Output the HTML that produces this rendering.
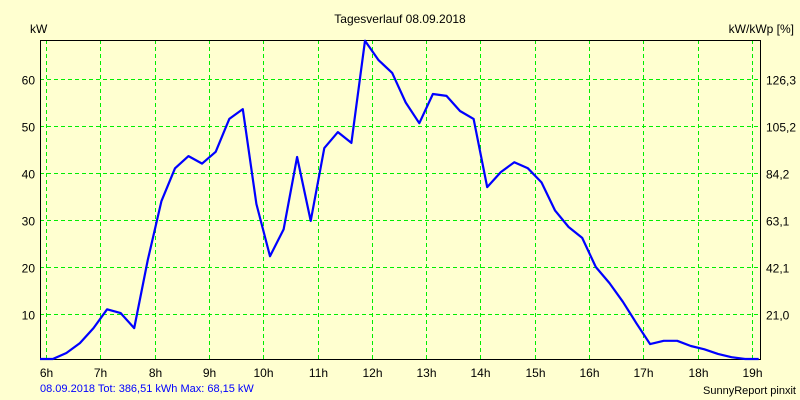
<!DOCTYPE html>
<html><head><meta charset="utf-8"><style>
html,body{margin:0;padding:0;background:#ffffd0;}
svg{display:block;font-family:"Liberation Sans",sans-serif;font-size:12px;}
</style></head><body>
<svg id="chart" width="800" height="400">
<rect x="0" y="0" width="800" height="400" fill="#ffffd0"/>
<text x="400" y="23" text-anchor="middle" fill="#000">Tagesverlauf 08.09.2018</text>
<text x="30" y="33" fill="#000">kW</text>
<text x="794" y="33" text-anchor="end" fill="#000">kW/kWp [%]</text>
<text x="40" y="392" fill="#0000ff" font-size="11">08.09.2018 Tot: 386,51 kWh Max: 68,15 kW</text>
<text x="796" y="394" text-anchor="end" fill="#000" font-size="11">SunnyReport pinxit</text>
<g id="grid"></g>
<g id="axes"></g>
<g id="series"></g>
</svg>
<script>
const hourTicks = [6,7,8,9,10,11,12,13,14,15,16,17,18,19];
const kwTicks = [10,20,30,40,50,60];
const pctLabels = ["21,0","42,1","63,1","84,2","105,2","126,3"];
const times = [5.875,6.125,6.375,6.625,6.875,7.125,7.375,7.625,7.875,8.125,8.375,8.625,8.875,9.125,9.375,9.625,9.875,10.125,10.375,10.625,10.875,11.125,11.375,11.625,11.875,12.125,12.375,12.625,12.875,13.125,13.375,13.625,13.875,14.125,14.375,14.625,14.875,15.125,15.375,15.625,15.875,16.125,16.375,16.625,16.875,17.125,17.375,17.625,17.875,18.125,18.375,18.625,18.875,19.125];
const power = [0,0,1.7,3.8,7,11,10.2,7,21.5,34,41,43.6,42,44.5,51.5,53.6,33.4,22.3,28,43.4,29.8,45.3,48.7,46.4,68.15,64,61.3,55,50.6,56.8,56.4,53.2,51.5,37,40.2,42.3,41,38,32,28.5,26.2,20,16.6,12.6,8,3.6,4.3,4.3,3.2,2.5,1.5,0.8,0,0];

const NS="http://www.w3.org/2000/svg";
const L=40,R=760,T=40,B=359;
function xs(h){return 46+(h-6)*54.3;}
function ys(v){return 361-v*4.7;}
function mk(tag,attrs,parent){const e=document.createElementNS(NS,tag);for(const k in attrs)e.setAttribute(k,attrs[k]);parent.appendChild(e);return e;}
const grid=document.getElementById('grid'),axes=document.getElementById('axes'),series=document.getElementById('series');

hourTicks.forEach(h=>{
  const x=Math.round(xs(h))+0.5;
  const g=mk('line',{x1:x,x2:x,y1:T,y2:B,stroke:'#00ee00','stroke-dasharray':'4,3'},grid);
  
  
  const t=mk('text',{x:x,y:377,'text-anchor':'middle',fill:'#000'},axes);
  t.textContent=h+'h';
  
  
});
kwTicks.forEach((v,i)=>{
  const y=Math.round(ys(v))+0.5;
  const g=mk('line',{x1:L,x2:R,y1:y,y2:y,stroke:'#00ee00','stroke-dasharray':'4,3'},grid);
  
  
  const t=mk('text',{x:35,y:y+5,'text-anchor':'end',fill:'#000'},axes);
  t.textContent=v;
  
  
  const t2=mk('text',{x:766,y:y+5,fill:'#000'},axes);
  t2.textContent=pctLabels[i];
  
  
});
const frame=mk('path',{d:`M${L+0.5},${T} V${B+0.5} H${R+0.5} V${T} M${L},${T+0.5} H${R+1}`,stroke:'#000',fill:'none','stroke-width':1},axes);



const pts=times.map((t,i)=>Math.max(L,Math.min(R,xs(t))).toFixed(1)+','+Math.min(B,ys(power[i])).toFixed(1)).join(' ');
const line=mk('polyline',{points:pts,fill:'none',stroke:'#0000ff','stroke-width':2.2,'stroke-linejoin':'round'},series);


</script>
</body></html>
